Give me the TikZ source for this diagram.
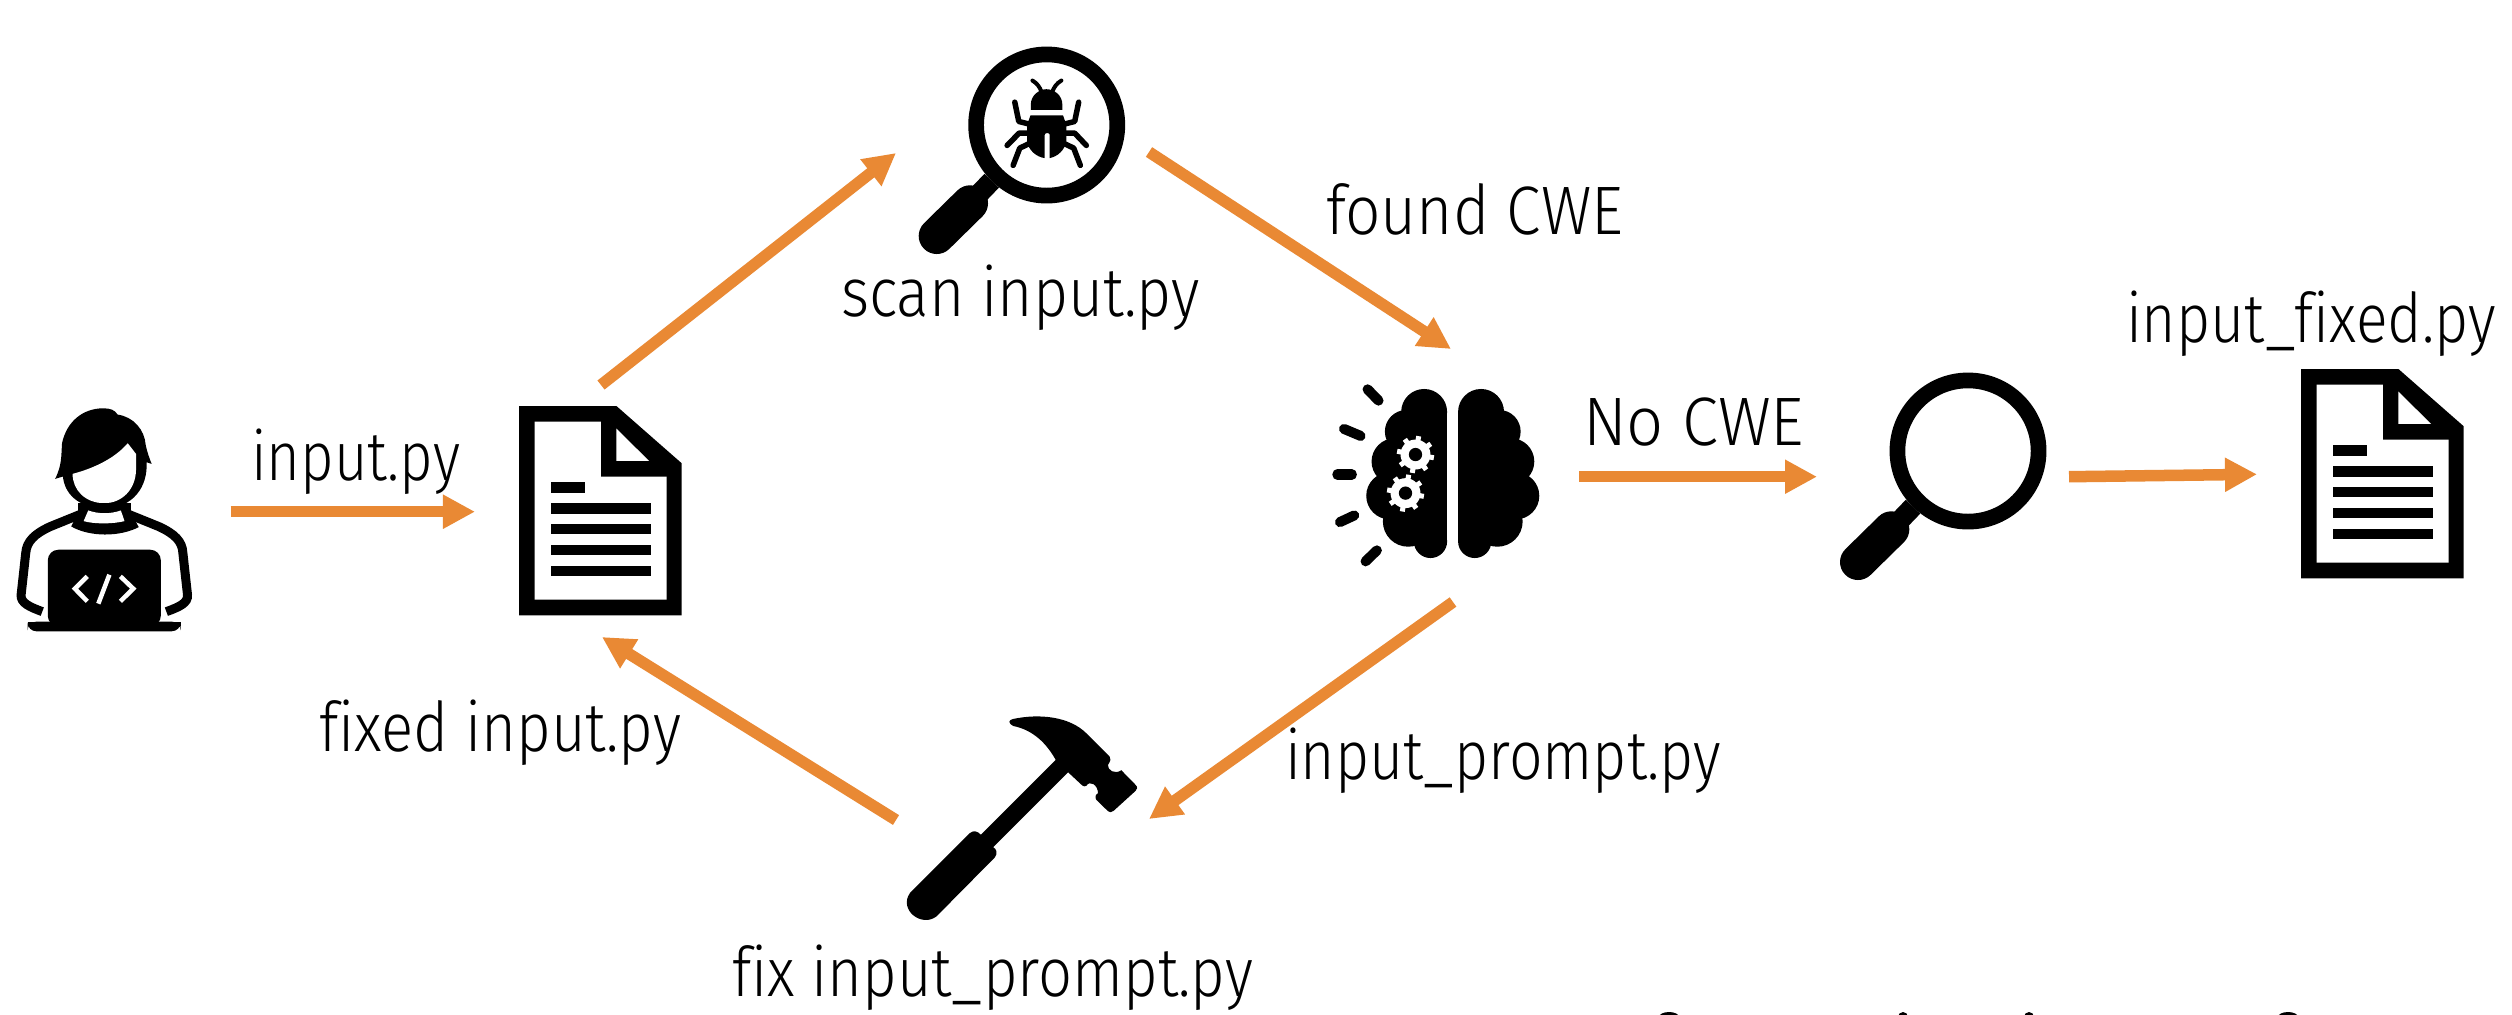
\documentclass[tikz,border=0pt]{standalone}
\usepackage{fontspec}
\setmainfont{Fira Sans}[UprightFont=* Light,Ligatures=NoCommon]
\usetikzlibrary{arrows.meta}
\definecolor{flow}{HTML}{E98934}
\newsavebox{\lblbox}
\newcommand{\fitw}[2]{\sbox{\lblbox}{#2}\pgfmathsetmacro{\lblr}{#1/\the\wd\lblbox}\scalebox{\lblr}[1]{\usebox{\lblbox}}}
\tikzset{
  flowarrow/.style={draw=flow,line width=0.115cm,-{Triangle[length=0.32cm,width=0.32cm,fill=flow]}},
  lbl/.style={anchor=base west,inner sep=0pt,outer sep=0pt,font=\fontsize{19.5pt}{21pt}\selectfont},
  docicon/.pic={
    \begin{scope}[x=0.0045914cm,y=-0.0033333cm,shift={(-1131,-78)}]
      \fill[black] (1131,78) -- (1343,78) -- (1485,250) -- (1485,707) -- (1131,707) -- cycle;
      \fill[white] (1165,125) -- (1309,125) -- (1309,290) -- (1452,290) -- (1452,660) -- (1165,660) -- cycle;
      \fill[white] (1343,146) -- (1414,243) -- (1343,243) -- cycle;
      \fill[black] (1200,306) rectangle (1275,338);
      \foreach \yy in {369,432,495,558} \fill[black] (1200,\yy) rectangle (1418,\yy+32);
    \end{scope}
  },
  lensicon/.pic={
    \draw[black,line width=0.157cm] (0,0) circle (70.6);
    \draw[black,line width=0.20cm] (-76.7,78.3) -- (-55,55.7);
    \draw[black,line width=0.36cm,line cap=round] (-110,111) -- (-76.7,78.3);
  }
}
\begin{document}
\begin{tikzpicture}[x=0.01cm,y=-0.01cm]
\useasboundingbox (0,0) rectangle (2512,1014);
\clip (0,0) rectangle (2512,1014);
\fill[white] (0,0) rectangle (2512,1014);

% person
\begin{scope}[shift={(0,380)},x=0.0045914cm,y=-0.0033333cm]
  % head and hair
  \fill[black] (120,297) .. controls (135,255) and (133,230) .. (135,190) .. controls (145,125) and (180,85) .. (225,85) .. controls (240,85) and (250,90) .. (256,104) .. controls (290,110) and (315,150) .. (317,195) .. controls (320,215) and (325,235) .. (330,252) -- (319,247) .. controls (322,320) and (290,385) .. (227,385) .. controls (170,385) and (140,340) .. (137,290) -- cycle;
  \fill[white] (158,282) .. controls (205,265) and (250,235) .. (278,190) -- (296,222) -- (296,270) .. controls (295,330) and (265,370) .. (227,370) .. controls (185,370) and (158,330) .. (158,282) -- cycle;
  % neck and collar
  \fill[black] (170,370) -- (285,370) -- (285,400) -- (302,442) .. controls (260,472) and (195,472) .. (155,440) -- (170,398) -- cycle;
  \fill[white] (192,392) .. controls (215,403) and (240,403) .. (263,392) -- (271,424) .. controls (245,433) and (205,433) .. (182,424) -- cycle;
  % arms
  \draw[black,line width=0.09cm] (178,402) -- (110,440) .. controls (75,462) and (58,485) .. (56,520) -- (46,645) .. controls (44,670) and (65,682) .. (92,696);
  \draw[black,line width=0.09cm] (277,402) -- (345,440) .. controls (380,462) and (397,485) .. (398,520) -- (408,645) .. controls (410,670) and (390,682) .. (362,696);
  % laptop
  \fill[black,rounded corners=3pt] (104,740) -- (104,510) -- (350,510) -- (350,740) -- cycle;
  \fill[black,rounded corners=2.5pt] (60,726) -- (393,726) -- (393,755) -- (60,755) -- cycle;
  \fill[black] (60,726) rectangle (393,740);
  \draw[white,line width=0.045cm] (190,590) -- (163,627) -- (190,665);
  \draw[white,line width=0.045cm] (238,585) -- (214,672);
  \draw[white,line width=0.045cm] (262,590) -- (290,627) -- (262,665);
\end{scope}

% documents
\pic at (519,406) {docicon};
\pic at (2301,369) {docicon};

% bug magnifier
\pic at (1046.7,125) {lensicon};
\begin{scope}[shift={(880,0)},x=0.0033333cm,y=-0.0033333cm]
  \fill[black] (453,330) -- (453,315) .. controls (453,285) and (480,268) .. (500,268) .. controls (522,268) and (548,285) .. (548,315) -- (548,330) -- cycle;
  \fill[black] (452,347) -- (550,347) -- (560,375) -- (560,425) .. controls (555,450) and (535,470) .. (510,475) -- (510,405) .. controls (510,398) and (495,398) .. (495,405) -- (495,475) .. controls (470,472) and (445,450) .. (442,425) -- (442,375) -- cycle;
  \begin{scope}[line cap=round,line join=round,black,line width=0.055cm]
    \draw (405,307) -- (417,365) -- (445,372);
    \draw (597,307) -- (585,365) -- (557,372);
    \draw (382,437) -- (418,400) -- (445,400);
    \draw (620,437) -- (585,400) -- (557,400);
    \draw (400,497) -- (420,445) -- (445,433);
    \draw (602,497) -- (582,445) -- (557,433);
    \draw[line width=0.04cm] (458,242) .. controls (472,250) and (480,262) .. (485,275);
    \draw[line width=0.04cm] (545,242) .. controls (531,250) and (523,262) .. (518,275);
  \end{scope}
\end{scope}

% brain
\begin{scope}[shift={(1300,360)},x=0.0033333cm,y=-0.0033333cm]
  \fill[black] (300,155) rectangle (442,545);
  \foreach \cx/\cy/\rr in {373/156/69,320/215/65,285/305/70,270/408/71,325/485/76,392/545/50} \fill[black] (\cx,\cy) circle (\rr);
  \fill[black] (475,155) rectangle (620,545);
  \foreach \cx/\cy/\rr in {544/156/69,598/215/65,634/305/70,648/408/71,593/485/76,525/545/50} \fill[black] (\cx,\cy) circle (\rr);
  \foreach \gx/\gy in {347/284,317/400}{
    \fill[white] (\gx,\gy) circle (45);
    \foreach \a in {10,55,...,325} \draw[white,line width=0.05cm] (\gx,\gy) ++(\a:35) -- ++(\a:21);
    \fill[black] (\gx,\gy) circle (20);
  }
  \begin{scope}[black,line width=0.10cm,line cap=round]
    \draw (203,88) -- (236,122);
    \draw (132,207) -- (182,228);
    \draw (112,344) -- (156,344);
    \draw (120,487) -- (163,467);
    \draw (197,605) -- (231,572);
  \end{scope}
\end{scope}

% hammer
\begin{scope}[shift={(880,690)},x=0.0033333cm,y=-0.0033333cm]
  \fill[black] (90,610) -- (270,430) .. controls (280,420) and (295,425) .. (303,435) -- (528,210) .. controls (500,160) and (460,120) .. (400,108) .. controls (385,100) and (385,90) .. (400,87) .. controls (480,70) and (570,80) .. (620,130) -- (690,200) .. controls (695,207) and (693,212) .. (685,225) .. controls (683,240) and (705,255) .. (725,241) -- (768,285) .. controls (775,292) and (773,298) .. (768,303) -- (702,363) .. controls (695,369) and (690,368) .. (685,364) -- (650,330) .. controls (645,322) and (647,315) .. (655,310) .. controls (655,285) and (630,270) .. (620,288) .. controls (615,290) and (612,290) .. (608,287) -- (565,247) -- (340,472) .. controls (350,478) and (355,490) .. (345,503) -- (170,680) .. controls (125,715) and (55,660) .. (90,610) -- cycle;
\end{scope}

% second magnifier
\pic at (1968,451) {lensicon};

% connector ends
\coordinate (a1s) at (230.5,511.7);  \coordinate (a1e) at (475,511.7);
\coordinate (a2s) at (601,385);      \coordinate (a2e) at (896,153);
\coordinate (a3s) at (1149,152);     \coordinate (a3e) at (1451,349);
\coordinate (a4s) at (1579,476.7);   \coordinate (a4e) at (1817,476.7);
\coordinate (a5s) at (2069,476.7);   \coordinate (a5e) at (2257,474.3);
\coordinate (a6s) at (1453,602);     \coordinate (a6e) at (1149,819);
\coordinate (a7s) at (896,820);      \coordinate (a7e) at (602,637);
\foreach \n in {1,...,7} \draw[flowarrow] (a\n s) -- (a\n e);

% labels
\node[lbl] (l1) at (251,480) {\fitw{2.09cm}{input.py}};
\node[lbl] (l2) at (841,316) {\fitw{3.59cm}{scan input.py}};
\node[lbl] (l3) at (1326,234) {\fitw{2.97cm}{found CWE}};
\node[lbl] (l4) at (1583,445) {\fitw{2.21cm}{No CWE}};
\node[lbl] (l5) at (2126,342.7) {\fitw{3.70cm}{input\_fixed.py}};
\node[lbl] (l6) at (319,751) {\fitw{3.62cm}{fixed input.py}};
\node[lbl] (l7) at (1285,779) {\fitw{4.36cm}{input\_prompt.py}};
\node[lbl] (l8) at (732,996) {\fitw{5.21cm}{fix input\_prompt.py}};

% clipped marks on the lower edge
\foreach \mx/\mw in {1669/8,1903/3,2029/3,2288/8} \fill[black] (\mx,1017) ellipse (\mw+2 and 5);
\end{tikzpicture}
\end{document}
